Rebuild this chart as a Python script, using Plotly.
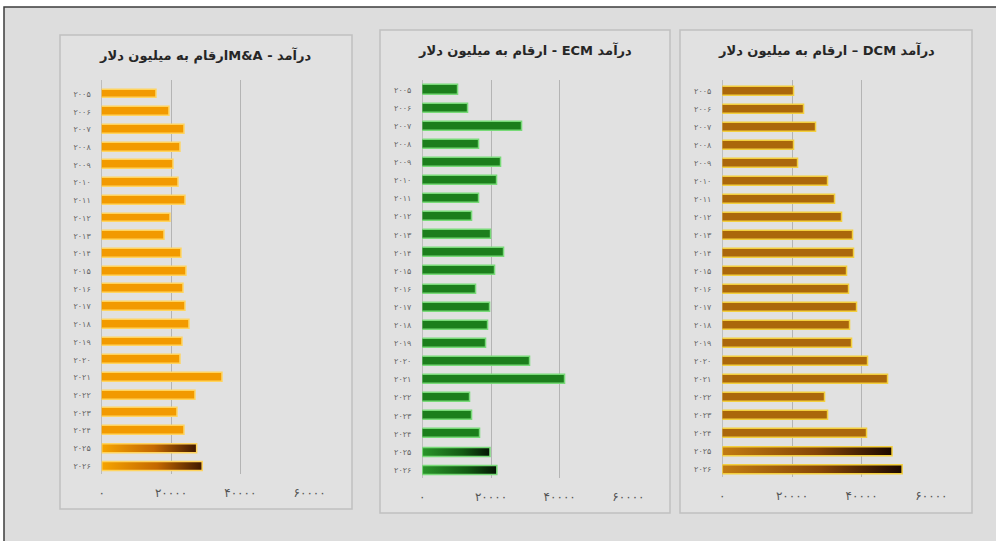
import plotly.graph_objects as go

# ---- data (US$ millions) ----
years = list(range(2005, 2027))
ma_values = [15900, 19700, 24000, 22800, 20700, 22100, 24300, 20000, 18100, 23200, 24500,
             23800, 24200, 25500, 23400, 22800, 34900, 27200, 21900, 24000, 27400, 29000]
ecm_values = [10600, 13300, 29100, 16600, 23000, 21700, 16600, 14600, 20100, 24000, 21300,
              15800, 19900, 19300, 18500, 31300, 41600, 14000, 14600, 17000, 19700, 21700]
dcm_values = [20700, 23500, 26900, 20700, 21800, 30400, 32500, 34400, 37600, 37800, 36000,
              36400, 38800, 36800, 37300, 41900, 47600, 29600, 30500, 41500, 48700, 51600]
x_tick_values = [0, 20000, 40000, 60000]
n_forecast = 2  # last two years drawn with a gradient

titles = [
    "درآمد - M&Aارقام به میلیون دلار",
    "درآمد ECM - ارقام به میلیون دلار",
    "درآمد DCM – ارقام به میلیون دلار",
]

FA_DIGITS = str.maketrans("0123456789", "۰۱۲۳۴۵۶۷۸۹")


def fa(n):
    return str(n).translate(FA_DIGITS)


def rtl(s):
    return "\u202b" + s + "\u202c"


W, H = 996, 541


def px(p):
    return p / W


def py(p):
    return 1 - p / H


FONT = "DejaVu Sans"

panels = [
    dict(values=ma_values, title=titles[0],
         fill="#f29a00", edge="#ffd45e",
         grad=[[0, "#f6a400"], [0.55, "#c46800"], [1, "#401800"]],
         x0=101.7, x60=309.6, row0=94, rowN=466, top=80, bottom=474,
         box=(60, 35, 352, 509), title_xy=(205, 56)),
    dict(values=ecm_values, title=titles[1],
         fill="#1c7e1c", edge="#78da78",
         grad=[[0, "#2a952a"], [0.6, "#135a13"], [1, "#041404"]],
         x0=422.3, x60=628.4, row0=90, rowN=470, top=80, bottom=478,
         box=(380, 30, 670, 513), title_xy=(525, 50)),
    dict(values=dcm_values, title=titles[2],
         fill="#ab670b", edge="#f3cf3e",
         grad=[[0, "#c27c12"], [0.55, "#874606"], [1, "#1c0800"]],
         x0=722.3, x60=931.4, row0=91, rowN=469.3, top=80, bottom=477,
         box=(680, 30, 972, 513), title_xy=(826, 51)),
]

fig = go.Figure()
shapes = [
    dict(type="rect", xref="paper", yref="paper", x0=px(4), x1=px(1005), y0=py(7), y1=py(550),
         fillcolor="#dddddd", line=dict(color="#3c3c3c", width=1.5), layer="below"),
]
annotations = []
layout_axes = {}

rows = list(range(len(years)))
tick_text = [fa(y) for y in years]
half = 0.25

for k, p in enumerate(panels):
    xa = "x" if k == 0 else f"x{k + 1}"
    ya = "y" if k == 0 else f"y{k + 1}"
    vals = p["values"]
    n_plain = len(vals) - n_forecast

    fig.add_trace(go.Bar(
        x=vals[:n_plain], y=rows[:n_plain], orientation="h", width=2 * half,
        marker=dict(color=p["fill"], line=dict(color=p["edge"], width=1.5)),
        xaxis=xa, yaxis=ya, showlegend=False, hoverinfo="x",
    ))
    for i in range(n_plain, len(vals)):
        v = vals[i]
        fig.add_trace(go.Scatter(
            x=[0, v, v, 0, 0],
            y=[i - half, i - half, i + half, i + half, i - half],
            mode="lines", fill="toself",
            fillgradient=dict(type="horizontal", colorscale=p["grad"]),
            line=dict(color=p["edge"], width=1.5),
            xaxis=xa, yaxis=ya, showlegend=False, hoverinfo="skip",
        ))

    spacing = (p["rowN"] - p["row0"]) / (len(years) - 1)
    r_top = (p["top"] - p["row0"]) / spacing
    r_bot = (p["bottom"] - p["row0"]) / spacing

    sfx = "" if k == 0 else str(k + 1)
    layout_axes["xaxis" + sfx] = dict(
        domain=[px(p["x0"]), px(p["x60"])], range=[0, 60000], anchor=ya,
        tickvals=x_tick_values, ticktext=[fa(v) for v in x_tick_values],
        showgrid=True, gridcolor="#b4b4b4", gridwidth=1,
        zeroline=True, zerolinecolor="#bdbdbd", zerolinewidth=1,
        showline=False, ticks="", ticklabelstandoff=10, automargin=False,
        tickfont=dict(family=FONT, size=12, color="#555555"), fixedrange=True,
    )
    layout_axes["yaxis" + sfx] = dict(
        domain=[py(p["bottom"]), py(p["top"])], range=[r_bot, r_top], anchor=xa,
        tickvals=rows, ticktext=tick_text, showgrid=False, zeroline=False,
        showline=False, ticks="", ticklabelstandoff=10, automargin=False,
        tickfont=dict(family=FONT, size=8, color="#666666"), fixedrange=True,
    )

    bx0, by0, bx1, by1 = p["box"]
    shapes.append(dict(type="rect", xref="paper", yref="paper",
                       x0=px(bx0), x1=px(bx1), y0=py(by1), y1=py(by0),
                       fillcolor="#e1e1e1", line=dict(color="#c0c0c0", width=1.5),
                       layer="below"))
    tx, ty = p["title_xy"]
    annotations.append(dict(xref="paper", yref="paper", x=px(tx), y=py(ty),
                            xanchor="center", yanchor="middle", showarrow=False,
                            text="<b>" + rtl(p["title"]) + "</b>",
                            font=dict(family=FONT, size=13, color="#262626")))

fig.update_layout(
    width=W, height=H, margin=dict(l=0, r=0, t=0, b=0, autoexpand=False),
    paper_bgcolor="#ffffff", plot_bgcolor="rgba(0,0,0,0)",
    shapes=shapes, annotations=annotations, bargap=0,
    **layout_axes,
)

fig.write_html("out.html")
